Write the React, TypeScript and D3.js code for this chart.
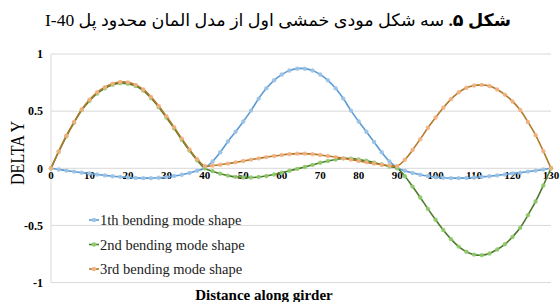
import React from "react";
import * as d3 from "d3";

const distance = [0,2,4,6,8,10,12,14,16,18,20,22,24,26,28,30,32,34,36,38,40,42,44,46,48,50,52,54,56,58,60,62,64,66,68,70,72,74,76,78,80,82,84,86,88,90,92,94,96,98,100,102,104,106,108,110,112,114,116,118,120,122,124,126,128,130];

const mode1 = [0,-0.01,-0.02,-0.029,-0.038,-0.046,-0.054,-0.062,-0.069,-0.075,-0.08,-0.084,-0.086,-0.086,-0.083,-0.077,-0.068,-0.056,-0.041,-0.022,0.003,
  0.06,0.14,0.235,0.32,0.41,0.505,0.61,0.7,0.77,0.82,0.855,0.872,0.872,0.855,0.82,0.77,0.7,0.61,0.505,0.41,0.32,0.23,0.14,0.06,0.005,
  -0.022,-0.041,-0.056,-0.068,-0.077,-0.083,-0.086,-0.086,-0.084,-0.08,-0.075,-0.069,-0.062,-0.054,-0.046,-0.038,-0.029,-0.02,-0.01,0];

const mode2 = [0,0.145,0.28,0.4,0.51,0.59,0.655,0.7,0.73,0.745,0.74,0.72,0.68,0.615,0.535,0.445,0.35,0.25,0.155,0.07,0,
  -0.025,-0.047,-0.064,-0.075,-0.08,-0.08,-0.076,-0.067,-0.054,-0.038,-0.021,-0.005,0.012,0.03,0.048,0.064,0.077,0.087,0.085,0.077,0.066,0.05,0.033,0.016,0,
  -0.07,-0.16,-0.255,-0.355,-0.45,-0.54,-0.62,-0.685,-0.73,-0.755,-0.76,-0.745,-0.71,-0.665,-0.6,-0.52,-0.41,-0.29,-0.15,0];

const mode3 = [0,0.148,0.285,0.405,0.515,0.6,0.665,0.71,0.74,0.755,0.752,0.73,0.69,0.625,0.545,0.455,0.36,0.26,0.165,0.08,0.02,
  0.024,0.031,0.041,0.052,0.064,0.076,0.087,0.098,0.108,0.117,0.124,0.128,0.128,0.124,0.117,0.108,0.098,0.087,0.076,0.064,0.052,0.041,0.031,0.024,0.02,
  0.075,0.16,0.255,0.355,0.445,0.53,0.605,0.665,0.705,0.725,0.73,0.72,0.69,0.645,0.585,0.51,0.405,0.29,0.15,0];

const seriesNames = ["1th bending mode shape", "2nd bending mode shape", "3rd bending mode shape"];
const seriesValues = [mode1, mode2, mode3];
const lineColors = ["#5B9BD5", "#4E7A2C", "#B07A28"];
const markerColors = ["#9DC3E6", "#8FCB6A", "#F4B183"];

const xTicks = [0,10,20,30,40,50,60,70,80,90,100,110,120,130];
const yTicks = [1,0.5,0,-0.5,-1];
const yTickLabels = ["1","0.5","0","-0.5","-1"];

const titleBold = "شکل ۵.";
const titleRest = " سه شکل مودی خمشی  اول از مدل المان محدود پل I-40";
const xTitle = "Distance along girder";
const yTitle = "DELTA Y";

const W = 560, H = 302;
const serif = "'Liberation Serif', 'Times New Roman', 'DejaVu Serif', serif";
const arabicFont = "'Liberation Serif', 'DejaVu Sans', serif";

export default function App() {
  const x = d3.scaleLinear().domain([0, 130]).range([51, 551]);
  const y = d3.scaleLinear().domain([-1, 1]).range([282.6, 54]);
  const line = d3.line<number>()
    .x((_, i) => x(distance[i]))
    .y((d) => y(d))
    .curve(d3.curveCatmullRom.alpha(0.5));

  return (
    <svg width={W} height={H} style={{ position: "absolute", left: 0, top: 0, background: "#fff" }}>
      <rect width={W} height={H} fill="#fff" />
      <text x={278} y={26} textAnchor="middle" direction="rtl" fontFamily={arabicFont} fontSize={17} fill="#000"
        textLength={466} lengthAdjust="spacingAndGlyphs"
        style={{ direction: "rtl", unicodeBidi: "embed" } as any}>
        <tspan fontWeight="bold">{titleBold}</tspan>
        <tspan>{titleRest}</tspan>
      </text>

      {yTicks.map((t) => (
        <line key={"g" + t} x1={x(0)} x2={x(130)} y1={y(t)} y2={y(t)} stroke="#d9d9d9" strokeWidth={1} />
      ))}
      <line x1={x(0)} x2={x(0)} y1={y(1)} y2={y(-1)} stroke="#d9d9d9" strokeWidth={1} />

      {yTicks.map((t, i) => (
        <text key={"yl" + t} x={43} y={y(t)} dy="0.35em" textAnchor="end" fontFamily={serif} fontWeight="bold" fontSize={12} fill="#000">
          {yTickLabels[i]}
        </text>
      ))}
      {xTicks.map((t) => (
        <text key={"xl" + t} x={x(t)} y={179} textAnchor="middle" fontFamily={serif} fontWeight="bold" fontSize={11} fill="#000">
          {t}
        </text>
      ))}

      {seriesValues.map((vals, si) => (
        <g key={"s" + si}>
          <path d={line(vals) || ""} fill="none" stroke={lineColors[si]} strokeWidth={1.6} />
          {vals.map((v, i) => (
            <circle key={i} cx={x(distance[i])} cy={y(v)} r={2.2} fill={markerColors[si]} opacity={0.9} />
          ))}
        </g>
      ))}

      {seriesNames.map((n, i) => {
        const cy = 220 + i * 24.5;
        return (
          <g key={"lg" + i}>
            <line x1={89} x2={99} y1={cy} y2={cy} stroke={lineColors[i]} strokeWidth={1.6} />
            <circle cx={94} cy={cy} r={2.2} fill={markerColors[i]} />
            <text x={100} y={cy + 5} fontFamily={serif} fontSize={14.5} fill="#222">{n}</text>
          </g>
        );
      })}

      <text x={264} y={300} textAnchor="middle" fontFamily={serif} fontWeight="bold" fontSize={15} fill="#000">{xTitle}</text>
      <text transform="translate(24,153) rotate(-90)" textAnchor="middle" fontFamily={serif} fontSize={19}
        textLength={64} lengthAdjust="spacingAndGlyphs" fill="#000">{yTitle}</text>
    </svg>
  );
}
